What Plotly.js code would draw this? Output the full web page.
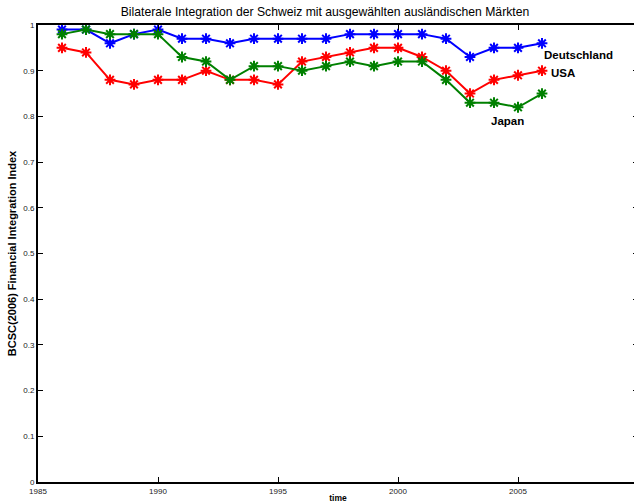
<!DOCTYPE html>
<html><head><meta charset="utf-8">
<script src="https://cdn.plot.ly/plotly-3.0.1.min.js"></script>
<style>html,body{margin:0;padding:0;overflow:hidden;background:#fff}#chart{width:640px;height:503px}</style>
</head><body><div id="chart"></div>
<script>
const years = [1986,1987,1988,1989,1990,1991,1992,1993,1994,1995,1996,1997,1998,1999,2000,2001,2002,2003,2004,2005,2006];
const deutschland = [0.99,0.99,0.96,0.98,0.99,0.97,0.97,0.96,0.97,0.97,0.97,0.97,0.98,0.98,0.98,0.98,0.97,0.93,0.95,0.95,0.96];
const usa = [0.95,0.94,0.88,0.87,0.88,0.88,0.90,0.88,0.88,0.87,0.92,0.93,0.94,0.95,0.95,0.93,0.90,0.85,0.88,0.89,0.90];
const japan = [0.98,0.99,0.98,0.98,0.98,0.93,0.92,0.88,0.91,0.91,0.90,0.91,0.92,0.91,0.92,0.92,0.88,0.83,0.83,0.82,0.85];
const seriesNames = ['Deutschland','USA','Japan'];
const colors = ['#0000ff','#ff0000','#008000'];
const xTicks = [1985,1990,1995,2000,2005];
const yTicks = [0,0.1,0.2,0.3,0.4,0.5,0.6,0.7,0.8,0.9,1];

const mk = (y,i)=>({x:years,y:y,type:'scatter',mode:'lines+markers',name:seriesNames[i],
  line:{color:colors[i],width:2},
  marker:{symbol:'asterisk-open',size:9,color:colors[i],line:{color:colors[i],width:2}}});
const data=[mk(deutschland,0),mk(usa,1),mk(japan,2)];

const FF='Liberation Sans, Arial, sans-serif';
const axFont={family:FF,size:8,color:'#222'};
const annFont={family:FF,size:11.5,color:'#000'};
const layout={
  width:640,height:503,
  margin:{l:38,r:2,t:25,b:21},
  paper_bgcolor:'#fff',plot_bgcolor:'#fff',
  showlegend:false,
  title:{text:'Bilaterale Integration der Schweiz mit ausgewählten ausländischen Märkten',
    font:{family:FF,size:12.2,color:'#000'},
    xref:'container',x:325/640,xanchor:'center',yref:'container',y:0.976,yanchor:'middle'},
  xaxis:{range:[1985,2010],tickvals:xTicks,ticktext:xTicks.map(String),
    ticks:'inside',ticklen:5,tickcolor:'#000',tickwidth:1,
    showline:true,linecolor:'#000',linewidth:2,mirror:'ticks',
    showgrid:false,zeroline:false,tickfont:axFont,
    title:{text:'<b>time</b>',font:{family:FF,size:8.5,color:'#000'},standoff:2}},
  yaxis:{range:[0,1],tickvals:yTicks,ticktext:yTicks.map(v=>String(v)),
    ticks:'inside',ticklen:5,tickcolor:'#000',tickwidth:1,
    showline:true,linecolor:'#000',linewidth:2,mirror:'ticks',
    showgrid:false,zeroline:false,tickfont:axFont,
    title:{text:'<b>BCSC(2006) Financial Integration Index</b>',font:{family:FF,size:11,color:'#000'},standoff:4}},
  annotations:[
    {x:2006.0,y:0.934,xref:'x',yref:'y',text:'<b>Deutschland</b>',showarrow:false,xanchor:'left',yanchor:'middle',font:annFont},
    {x:2006.3,y:0.895,xref:'x',yref:'y',text:'<b>USA</b>',showarrow:false,xanchor:'left',yanchor:'middle',font:annFont},
    {x:2003.8,y:0.79,xref:'x',yref:'y',text:'<b>Japan</b>',showarrow:false,xanchor:'left',yanchor:'middle',font:annFont}
  ]
};
Plotly.newPlot('chart',data,layout,{displayModeBar:false,staticPlot:true});
</script></body></html>
